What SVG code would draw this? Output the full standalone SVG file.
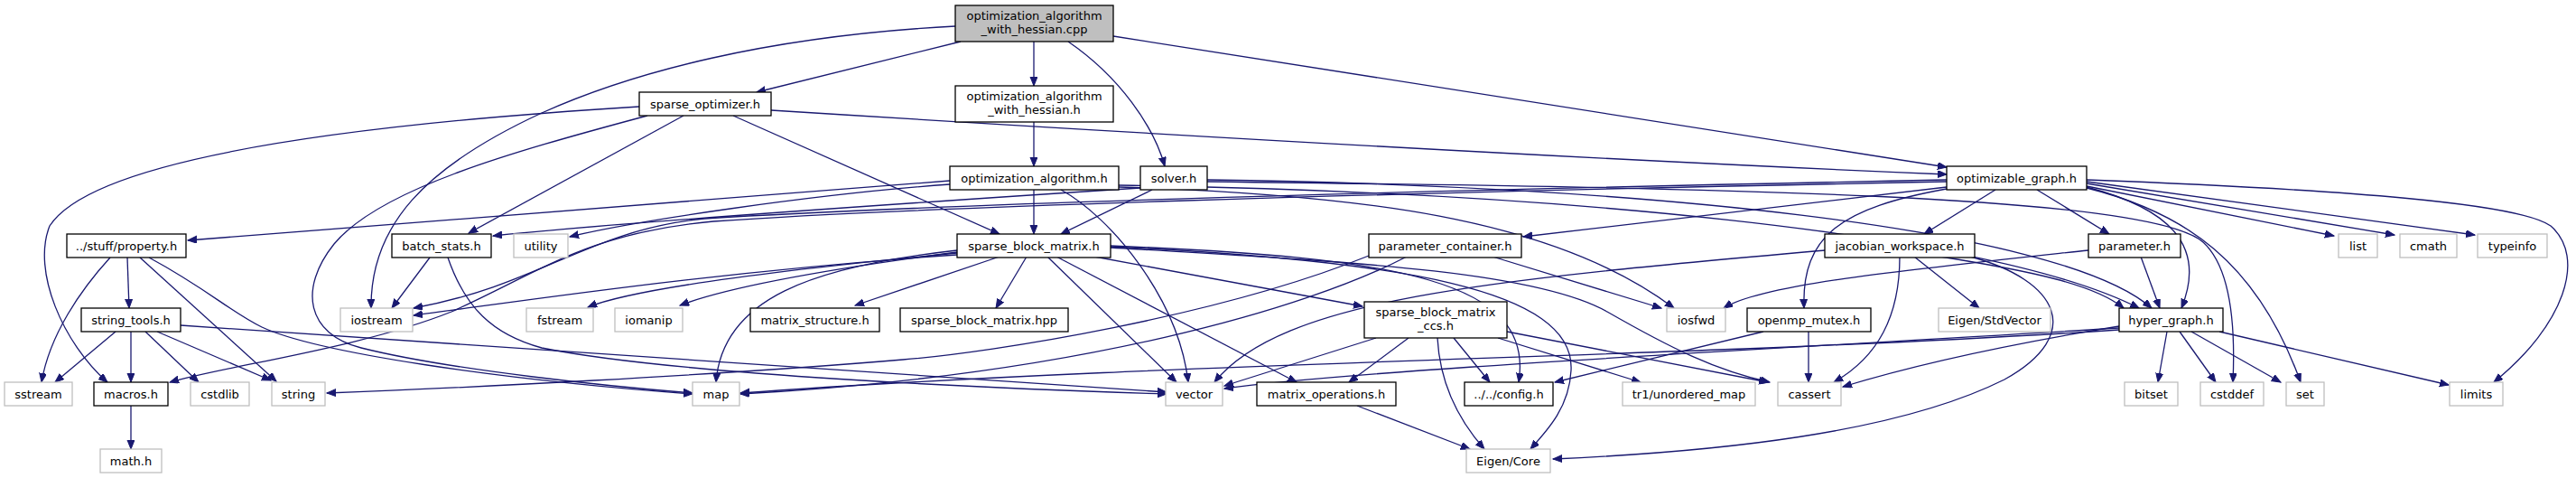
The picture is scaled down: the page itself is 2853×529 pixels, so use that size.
<svg xmlns="http://www.w3.org/2000/svg" width="2853" height="529" viewBox="0 0 2853 529">
<defs>
<marker id="a" markerUnits="userSpaceOnUse" markerWidth="12" markerHeight="10" refX="10" refY="4" orient="auto"><path d="M0,0 L10,4 L0,8 Z" fill="#191970" stroke="#191970" stroke-width="1"/></marker>
<style>
.n rect{fill:#fff;stroke:#000;stroke-width:1.3}
.x rect{fill:#fff;stroke:#bfbfbf;stroke-width:1.3}
.r rect{fill:#bfbfbf;stroke:#000;stroke-width:1.3}
text{font-family:"DejaVu Sans","Liberation Sans",sans-serif;font-size:13px;fill:#000;text-anchor:middle}
#edges path{fill:none;stroke:#191970;stroke-width:1.3;marker-end:url(#a)}
</style>
</defs>
<rect width="2853" height="529" fill="#fff"/>
<g id="edges">
<path d="M1145,46 L1145,95"/>
<path d="M1064,46 L838,102"/>
<path d="M1183,46 C1240,85 1278,140 1290,184"/>
<path d="M1233,40 L2156,185"/>
<path d="M1058,29 C850,40 700,80 600,125 C470,185 410,250 411,341"/>
<path d="M1145,135 L1145,184"/>
<path d="M1145,210 L1145,259"/>
<path d="M1175,210 C1230,240 1305,330 1316,423"/>
<path d="M1052,204 C900,215 700,245 631,262"/>
<path d="M1052,200 L208,266"/>
<path d="M1239,207 C1500,215 1720,240 1854,341"/>
<path d="M1239,205 C1700,212 2200,255 2369,341"/>
<path d="M1276,210 L1175,259"/>
<path d="M1263,208 C1000,225 700,245 546,261"/>
<path d="M1337,199 C1800,205 2280,250 2383,341"/>
<path d="M1337,201 C1900,208 2380,215 2440,268 C2475,300 2475,380 2473,423"/>
<path d="M2156,207 L1687,262"/>
<path d="M2156,199 C1500,212 1000,228 780,242 C650,255 600,315 458,341"/>
<path d="M2156,201 C1500,214 1000,230 790,245 C650,258 600,300 500,345 C400,385 250,405 188,423"/>
<path d="M2156,209 C2040,230 1995,260 1998,341"/>
<path d="M2210,210 L2131,259"/>
<path d="M2256,210 L2336,259"/>
<path d="M2311,206 L2585,261"/>
<path d="M2311,203 L2652,260"/>
<path d="M2311,201 L2741,260"/>
<path d="M2311,199 C2600,210 2790,225 2825,250 C2865,285 2840,360 2762,423"/>
<path d="M2311,207 C2400,230 2445,270 2416,341"/>
<path d="M2311,208 C2420,235 2500,290 2548,423"/>
<path d="M1653,284 L1840,341"/>
<path d="M1558,284 C1450,340 1200,415 820,436"/>
<path d="M1516,283 C1350,350 1100,390 1000,398 C800,415 500,430 362,435"/>
<path d="M2313,277 C2100,300 1950,315 1909,341"/>
<path d="M2371,284 L2392,341"/>
<path d="M2104,284 C2104,350 2080,395 2031,423"/>
<path d="M2120,284 L2192,341"/>
<path d="M2149,284 C2250,300 2320,315 2352,341"/>
<path d="M2021,277 C1650,310 1420,330 1345,423"/>
<path d="M2182,284 C2280,310 2310,370 2220,420 C2100,480 1900,500 1720,508"/>
<path d="M1953,367 L1722,423"/>
<path d="M2003,367 L2003,423"/>
<path d="M2400,367 L2390,423"/>
<path d="M2414,367 L2454,423"/>
<path d="M2427,367 L2526,423"/>
<path d="M2458,367 L2712,426"/>
<path d="M2347,361 C2200,385 2100,410 2041,428"/>
<path d="M2347,363 C1900,390 1500,410 1356,430"/>
<path d="M2347,365 C1900,395 1300,400 820,435"/>
<path d="M1137,284 L1103,341"/>
<path d="M1160,284 L1303,423"/>
<path d="M1170,284 L1436,423"/>
<path d="M1212,284 L1509,339"/>
<path d="M1107,284 L947,338"/>
<path d="M1060,277 C900,295 800,330 793,423"/>
<path d="M1060,279 C900,300 800,320 753,338"/>
<path d="M1060,280 C850,300 700,320 651,340"/>
<path d="M1060,282 C800,300 600,330 458,349"/>
<path d="M1230,274 C1500,290 1700,300 1780,345 C1850,385 1900,410 1960,423"/>
<path d="M1230,272 C1550,285 1700,310 1682,423"/>
<path d="M1230,273 C1550,288 1745,320 1740,410 C1738,450 1715,475 1695,497"/>
<path d="M1524,374 L1356,427"/>
<path d="M1560,374 L1494,423"/>
<path d="M1592,374 C1595,430 1620,470 1644,497"/>
<path d="M1610,374 L1650,423"/>
<path d="M1659,374 L1817,423"/>
<path d="M1669,367 L1958,423"/>
<path d="M1503,449 L1628,497"/>
<path d="M476,285 L434,341"/>
<path d="M496,285 C515,340 545,370 600,385 C750,415 1100,430 1292,436"/>
<path d="M128,367 L61,423"/>
<path d="M145,367 L145,423"/>
<path d="M161,367 L220,423"/>
<path d="M174,367 L300,421"/>
<path d="M200,360 L1292,434"/>
<path d="M122,285 C90,320 55,370 46,423"/>
<path d="M141,285 L143,341"/>
<path d="M155,285 L306,422"/>
<path d="M165,285 C230,320 255,345 290,362 C350,390 550,420 767,436"/>
<path d="M708,118 C350,140 100,180 55,250 C35,300 70,380 119,423"/>
<path d="M717,128 C560,170 420,210 370,270 C330,320 340,370 400,385 C500,410 680,428 767,435"/>
<path d="M757,128 L519,258"/>
<path d="M812,128 L1107,259"/>
<path d="M854,122 C1300,150 1800,178 2156,193"/>
<path d="M145,449 L145,497"/>
</g>
<g id="n_cpp" class="r"><rect x="1058" y="6" width="175" height="40"/><text x="1145.5" y="21.5">optimization_algorithm</text><text x="1145.5" y="37">_with_hessian.cpp</text></g>
<g id="n_hess" class="n"><rect x="1058" y="95" width="175" height="40"/><text x="1145.5" y="110.5">optimization_algorithm</text><text x="1145.5" y="126">_with_hessian.h</text></g>
<g id="n_so" class="n"><rect x="708" y="102" width="146" height="26"/><text x="781" y="119.5">sparse_optimizer.h</text></g>
<g id="n_oa" class="n"><rect x="1052" y="184" width="187" height="26"/><text x="1145.5" y="201.5">optimization_algorithm.h</text></g>
<g id="n_solver" class="n"><rect x="1263" y="184" width="74" height="26"/><text x="1300" y="201.5">solver.h</text></g>
<g id="n_og" class="n"><rect x="2156" y="184" width="155" height="26"/><text x="2233.5" y="201.5">optimizable_graph.h</text></g>
<g id="n_prop" class="n"><rect x="74" y="259" width="132" height="26"/><text x="140" y="276.5">../stuff/property.h</text></g>
<g id="n_bs" class="n"><rect x="434" y="259" width="110" height="26"/><text x="489" y="276.5">batch_stats.h</text></g>
<g id="n_utility" class="x"><rect x="569" y="259" width="60" height="26"/><text x="599" y="276.5">utility</text></g>
<g id="n_sbm" class="n"><rect x="1060" y="259" width="170" height="26"/><text x="1145" y="276.5">sparse_block_matrix.h</text></g>
<g id="n_pc" class="n"><rect x="1516" y="259" width="169" height="26"/><text x="1600.5" y="276.5">parameter_container.h</text></g>
<g id="n_jac" class="n"><rect x="2021" y="259" width="166" height="26"/><text x="2104" y="276.5">jacobian_workspace.h</text></g>
<g id="n_param" class="n"><rect x="2313" y="259" width="102" height="26"/><text x="2364" y="276.5">parameter.h</text></g>
<g id="n_list" class="x"><rect x="2590" y="259" width="43" height="26"/><text x="2611.5" y="276.5">list</text></g>
<g id="n_cmath" class="x"><rect x="2658" y="259" width="63" height="26"/><text x="2689.5" y="276.5">cmath</text></g>
<g id="n_typeinfo" class="x"><rect x="2744" y="259" width="77" height="26"/><text x="2782.5" y="276.5">typeinfo</text></g>
<g id="n_st" class="n"><rect x="90" y="341" width="110" height="26"/><text x="145" y="358.5">string_tools.h</text></g>
<g id="n_iostream" class="x"><rect x="377" y="341" width="80" height="26"/><text x="417" y="358.5">iostream</text></g>
<g id="n_fstream" class="x"><rect x="583" y="341" width="74" height="26"/><text x="620" y="358.5">fstream</text></g>
<g id="n_iomanip" class="x"><rect x="681" y="341" width="75" height="26"/><text x="718.5" y="358.5">iomanip</text></g>
<g id="n_ms" class="n"><rect x="831" y="341" width="143" height="26"/><text x="902.5" y="358.5">matrix_structure.h</text></g>
<g id="n_hpp" class="n"><rect x="997" y="341" width="186" height="26"/><text x="1090" y="358.5">sparse_block_matrix.hpp</text></g>
<g id="n_ccs" class="n"><rect x="1511" y="334" width="158" height="40"/><text x="1590" y="349.5">sparse_block_matrix</text><text x="1590" y="365">_ccs.h</text></g>
<g id="n_iosfwd" class="x"><rect x="1846" y="341" width="65" height="26"/><text x="1878.5" y="358.5">iosfwd</text></g>
<g id="n_omp" class="n"><rect x="1935" y="341" width="137" height="26"/><text x="2003.5" y="358.5">openmp_mutex.h</text></g>
<g id="n_stdvec" class="x"><rect x="2147" y="341" width="124" height="26"/><text x="2209" y="358.5">Eigen/StdVector</text></g>
<g id="n_hg" class="n"><rect x="2347" y="341" width="115" height="26"/><text x="2404.5" y="358.5">hyper_graph.h</text></g>
<g id="n_sstream" class="x"><rect x="5" y="423" width="75" height="26"/><text x="42.5" y="440.5">sstream</text></g>
<g id="n_macros" class="n"><rect x="104" y="423" width="82" height="26"/><text x="145" y="440.5">macros.h</text></g>
<g id="n_cstdlib" class="x"><rect x="211" y="423" width="65" height="26"/><text x="243.5" y="440.5">cstdlib</text></g>
<g id="n_string" class="x"><rect x="301" y="423" width="59" height="26"/><text x="330.5" y="440.5">string</text></g>
<g id="n_map" class="x"><rect x="767" y="423" width="52" height="26"/><text x="793" y="440.5">map</text></g>
<g id="n_vector" class="x"><rect x="1291" y="423" width="63" height="26"/><text x="1322.5" y="440.5">vector</text></g>
<g id="n_mo" class="n"><rect x="1392" y="423" width="154" height="26"/><text x="1469" y="440.5">matrix_operations.h</text></g>
<g id="n_config" class="n"><rect x="1622" y="423" width="98" height="26"/><text x="1671" y="440.5">../../config.h</text></g>
<g id="n_tr1" class="x"><rect x="1797" y="423" width="147" height="26"/><text x="1870.5" y="440.5">tr1/unordered_map</text></g>
<g id="n_cassert" class="x"><rect x="1969" y="423" width="70" height="26"/><text x="2004" y="440.5">cassert</text></g>
<g id="n_bitset" class="x"><rect x="2353" y="423" width="59" height="26"/><text x="2382.5" y="440.5">bitset</text></g>
<g id="n_cstddef" class="x"><rect x="2437" y="423" width="70" height="26"/><text x="2472" y="440.5">cstddef</text></g>
<g id="n_set" class="x"><rect x="2532" y="423" width="42" height="26"/><text x="2553" y="440.5">set</text></g>
<g id="n_limits" class="x"><rect x="2713" y="423" width="59" height="26"/><text x="2742.5" y="440.5">limits</text></g>
<g id="n_math" class="x"><rect x="111" y="497" width="68" height="26"/><text x="145" y="514.5">math.h</text></g>
<g id="n_core" class="x"><rect x="1624" y="497" width="93" height="26"/><text x="1670.5" y="514.5">Eigen/Core</text></g>
</svg>
